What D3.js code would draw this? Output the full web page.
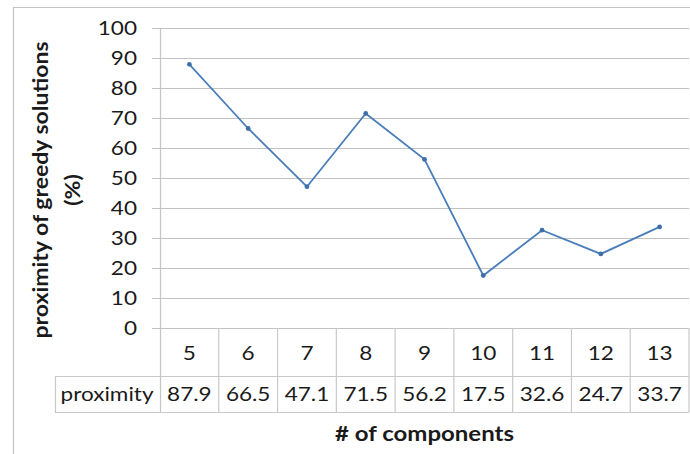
<!DOCTYPE html>
<html>
<head>
<meta charset="utf-8">
<script src="https://cdn.jsdelivr.net/npm/d3@7/dist/d3.min.js"></script>
<style>
  html, body { margin: 0; padding: 0; background: #fff; }
  svg { display: block; }
  text { font-family: Lato, "Open Sans", sans-serif; fill: #1a1a1a; }
</style>
</head>
<body>
<svg id="chart" width="690" height="454"></svg>
<script>
// Data
const categories = ["5", "6", "7", "8", "9", "10", "11", "12", "13"];
const proximity = [87.9, 66.5, 47.1, 71.5, 56.2, 17.5, 32.6, 24.7, 33.7];
const yTicks = [0, 10, 20, 30, 40, 50, 60, 70, 80, 90, 100];
const seriesName = "proximity";

const W = 690, H = 454;
const plot = { left: 160, right: 689, top: 28, bottom: 328 };
const rowMid = 376, rowBottom = 412, legendLeft = 55;
const sx = 1.22; // horizontal text stretch

const svg = d3.select("#chart");

const x = d3.scaleBand().domain(categories).range([plot.left, plot.right]).padding(0);
const y = d3.scaleLinear().domain([0, 100]).range([plot.bottom, plot.top]);

// helper: stretched text
function label(g, tx, ty, str, opts = {}) {
  return g.append("text")
    .attr("transform", `translate(${tx},${ty}) scale(${opts.sx ?? sx},1)`)
    .attr("text-anchor", opts.anchor || "middle")
    .attr("font-size", opts.size || 18.5)
    .attr("font-weight", opts.weight || "normal")
    .text(str);
}

// outer frame (chart area border)
svg.append("path")
  .attr("d", `M13.5,${H} V7.5 H${W}`)
  .attr("fill", "none").attr("stroke", "#c4c4c4").attr("stroke-width", 1.2);

// horizontal gridlines with tick stubs
const grid = svg.append("g");
grid.selectAll("line").data(yTicks).join("line")
  .attr("x1", plot.left - 8).attr("x2", plot.right)
  .attr("y1", d => Math.round(y(d)) + 0.5).attr("y2", d => Math.round(y(d)) + 0.5)
  .attr("stroke", "#c2c2c2").attr("stroke-width", 1.2);

// y tick labels
const yl = svg.append("g");
yTicks.forEach(t => label(yl, 137, y(t) + 6.5, String(t), { anchor: "end" }));

// vertical axis line
svg.append("line")
  .attr("x1", plot.left + 0.5).attr("x2", plot.left + 0.5)
  .attr("y1", plot.top).attr("y2", rowBottom)
  .attr("stroke", "#c4c4c4").attr("stroke-width", 1.2);

// data table grid
const tbl = svg.append("g").attr("stroke", "#c8c8c8").attr("stroke-width", 1.2);
categories.forEach(c => {
  const xr = x(c) + x.bandwidth();
  tbl.append("line").attr("x1", xr).attr("x2", xr).attr("y1", plot.bottom).attr("y2", rowBottom);
});
tbl.append("line").attr("x1", legendLeft).attr("x2", plot.right).attr("y1", rowMid + 0.5).attr("y2", rowMid + 0.5);
tbl.append("line").attr("x1", legendLeft).attr("x2", plot.right).attr("y1", rowBottom + 0.5).attr("y2", rowBottom + 0.5);
tbl.append("line").attr("x1", legendLeft + 0.5).attr("x2", legendLeft + 0.5).attr("y1", rowMid).attr("y2", rowBottom);

// category labels and values in the table
const tl = svg.append("g");
categories.forEach((c, i) => {
  const cx = x(c) + x.bandwidth() / 2;
  label(tl, cx, 360, c);
  label(tl, cx, 401, proximity[i].toFixed(1));
});
label(tl, 107, 401, seriesName);

// line series
const line = d3.line()
  .x((d, i) => x(categories[i]) + x.bandwidth() / 2)
  .y(d => y(d));
svg.append("path").datum(proximity)
  .attr("d", line)
  .attr("fill", "none").attr("stroke", "#4a7ebb").attr("stroke-width", 1.8);
svg.append("g").selectAll("circle").data(proximity).join("circle")
  .attr("cx", (d, i) => x(categories[i]) + x.bandwidth() / 2)
  .attr("cy", d => y(d))
  .attr("r", 2.4)
  .attr("fill", "#3f6fa8");

// axis titles
label(svg, (plot.left + plot.right) / 2, 441, "# of components", { weight: "bold", size: 20, sx: 1.2 });
const yt = svg.append("g").attr("transform", "translate(0,190) rotate(-90) scale(1,0.9)");
yt.append("text").attr("x", 0).attr("y", 53.3).attr("text-anchor", "middle")
  .attr("font-size", 23).attr("font-weight", "bold").text("proximity of greedy solutions");
yt.append("text").attr("x", 0).attr("y", 89).attr("text-anchor", "middle")
  .attr("font-size", 23).attr("font-weight", "bold").text("(%)");
</script>
</body>
</html>
